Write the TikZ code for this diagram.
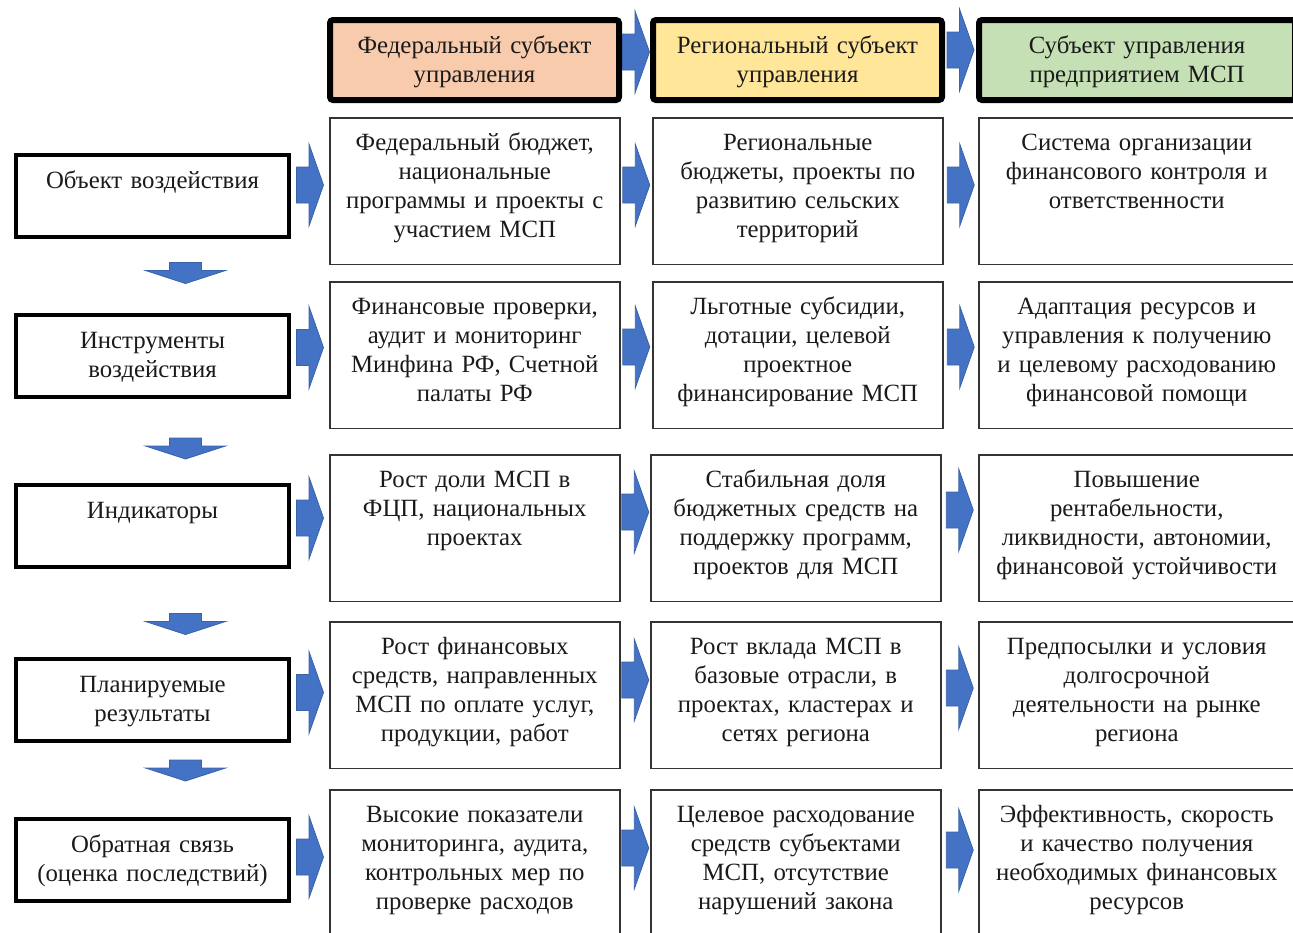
\documentclass[tikz,border=0pt]{standalone}
\usepackage{fontspec}
\setmainfont{Liberation Serif}
\usetikzlibrary{calc}
\definecolor{fedfill}{HTML}{F8CBAD}
\definecolor{regfill}{HTML}{FFE699}
\definecolor{mspfill}{HTML}{C5E0B4}
\definecolor{arrowblue}{HTML}{4472C4}
\definecolor{arrowedge}{HTML}{3A62A8}
\definecolor{inkgray}{HTML}{1A1A1A}

\begin{document}
\begin{tikzpicture}[x=0.5pt,y=-0.5pt,font=\fontsize{12.4}{14.5}\selectfont,text=inkgray,
  head/.style={draw=black,line width=3pt,rounded corners=1.5pt,anchor=north west,align=center,text width=144.5pt,inner sep=0pt,text height=16.5pt,text depth=23.5pt},
  lbox/.style={draw=black,line width=2pt,anchor=north west,align=center,text width=136.5pt,inner sep=0pt,text height=16.5pt,text depth=24.5pt},
  cell/.style={draw=black!80,line width=0.75pt,anchor=north west,align=center,text width=145pt,inner sep=0pt,text height=16.3pt,text depth=57pt},
  wide/.style={cell,text width=158pt},
  blockarrow/.style={fill=arrowblue,draw=arrowedge,line width=0.4pt}]
\useasboundingbox (0,0) rectangle (1293,932);
\clip (0,0) rectangle (1293,932);

\node[head,fill=fedfill] (h1) at (327,17) {Федеральный субъект\\управления};
\node[head,fill=regfill] (h2) at (650,17) {Региональный субъект\\управления};
\node[head,fill=mspfill,text width=158pt] (h3) at (976,17) {Субъект управления\\предприятием МСП};

\node[lbox] (l1) at (14,153) {Объект воздействия};
\node[lbox] (l2) at (14,313) {Инструменты\\воздействия};
\node[lbox] (l3) at (14,483) {Индикаторы};
\node[lbox] (l4) at (14,657) {Планируемые\\результаты};
\node[lbox] (l5) at (14,817) {Обратная связь\\(оценка последствий)};

\node[cell] (c11) at (329,117) {Федеральный бюджет,\\национальные\\программы и проекты с\\участием МСП};
\node[cell] (c12) at (652,117) {Региональные\\бюджеты, проекты по\\развитию сельских\\территорий};
\node[wide] (c13) at (978,117) {Система организации\\финансового контроля и\\ответственности};

\node[cell] (c21) at (329,281) {Финансовые проверки,\\аудит и мониторинг\\Минфина РФ, Счетной\\палаты РФ};
\node[cell] (c22) at (652,281) {Льготные субсидии,\\дотации, целевой\\проектное\\финансирование МСП};
\node[wide] (c23) at (978,281) {Адаптация ресурсов и\\управления к получению\\и целевому расходованию\\финансовой помощи};

\node[cell] (c31) at (329,454) {Рост доли МСП в\\ФЦП, национальных\\проектах};
\node[cell] (c32) at (650,454) {Стабильная доля\\бюджетных средств на\\поддержку программ,\\проектов для МСП};
\node[wide] (c33) at (978,454) {Повышение\\рентабельности,\\ликвидности, автономии,\\финансовой устойчивости};

\node[cell] (c41) at (329,621) {Рост финансовых\\средств, направленных\\МСП по оплате услуг,\\продукции, работ};
\node[cell] (c42) at (650,621) {Рост вклада МСП в\\базовые отрасли, в\\проектах, кластерах и\\сетях региона};
\node[wide] (c43) at (978,621) {Предпосылки и условия\\долгосрочной\\деятельности на рынке\\региона};

\node[cell] (c51) at (329,789) {Высокие показатели\\мониторинга, аудита,\\контрольных мер по\\проверке расходов};
\node[cell] (c52) at (650,789) {Целевое расходование\\средств субъектами\\МСП, отсутствие\\нарушений закона};
\node[wide] (c53) at (978,789) {Эффективность, скорость\\и качество получения\\необходимых финансовых\\ресурсов};

\foreach \a/\b/\d in {h1/h2/-8,h2/h3/-10,l1/c11/-8.5,c11/c12/-6,c12/c13/-6,l2/c21/-8,c21/c22/-8,c22/c23/-8,l3/c31/-9,c31/c32/-16,c32/c33/-18,l4/c41/-5,c41/c42/-15,c42/c43/-7,l5/c51/-4.5,c51/c52/-15,c52/c53/-13}
  \filldraw[blockarrow] let \p1=($(\a.east)!.5!(\b.west)+(0,\d)$) in
    (\x1-6.75pt,\y1+9pt) -- (\x1-0.5pt,\y1+9pt) -- (\x1-0.5pt,\y1+20.5pt) -- (\x1+6.75pt,\y1)
    -- (\x1-0.5pt,\y1-20.5pt) -- (\x1-0.5pt,\y1-9pt) -- (\x1-6.75pt,\y1-9pt) -- cycle;

\foreach \a/\b/\d in {l1/l2/-3,l2/l3/7.5,l3/l4/11,l4/l5/-9.5}
  \filldraw[blockarrow] let \p1=($(\a.south)!.5!(\b.north)+(33,\d)$) in
    (\x1-8pt,\y1+5.25pt) -- (\x1+8pt,\y1+5.25pt) -- (\x1+8pt,\y1+1.25pt) -- (\x1+20pt,\y1+1.25pt)
    -- (\x1,\y1-5.25pt) -- (\x1-20pt,\y1+1.25pt) -- (\x1-8pt,\y1+1.25pt) -- cycle;
\end{tikzpicture}
\end{document}
